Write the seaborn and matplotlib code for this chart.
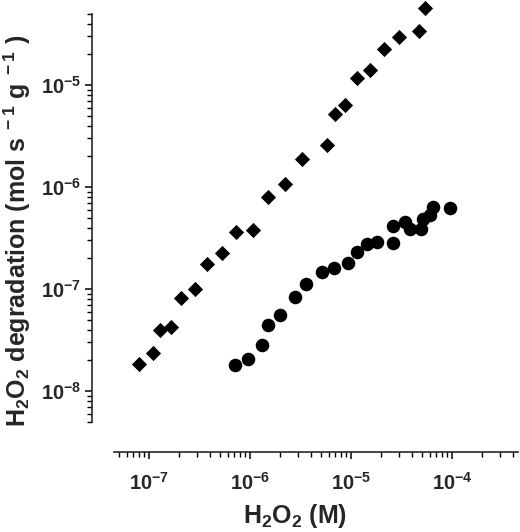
import numpy as np
import pandas as pd
import matplotlib
matplotlib.use("Agg")
import matplotlib.pyplot as plt
import seaborn as sns
from matplotlib.ticker import FixedLocator, FuncFormatter, NullFormatter

# --- data ---
# diamonds (upper series)
conc_diamond = [7.96e-8, 1.10e-7, 1.29e-7, 1.65e-7, 2.06e-7, 2.83e-7, 3.72e-7, 5.28e-7,
                7.26e-7, 1.08e-6, 1.52e-6, 2.22e-6, 3.25e-6, 5.75e-6, 6.95e-6, 8.73e-6,
                1.14e-5, 1.54e-5, 2.14e-5, 3.01e-5, 4.71e-5, 5.41e-5]
rate_diamond = [1.83e-8, 2.34e-8, 3.97e-8, 4.21e-8, 8.22e-8, 1.01e-7, 1.75e-7, 2.24e-7,
                3.65e-7, 3.75e-7, 7.98e-7, 1.06e-6, 1.88e-6, 2.58e-6, 5.16e-6, 6.32e-6,
                1.16e-5, 1.40e-5, 2.25e-5, 2.96e-5, 3.40e-5, 5.65e-5]

# circles (lower series)
conc_circle = [7.10e-7, 9.62e-7, 1.31e-6, 1.52e-6, 1.98e-6, 2.79e-6, 3.58e-6, 5.20e-6,
               6.84e-6, 9.40e-6, 1.14e-5, 1.43e-5, 1.79e-5, 2.59e-5, 2.59e-5, 3.43e-5,
               3.84e-5, 4.93e-5, 5.20e-5, 6.05e-5, 6.44e-5, 9.55e-5]
rate_circle = [1.80e-8, 2.06e-8, 2.83e-8, 4.44e-8, 5.56e-8, 8.41e-8, 1.12e-7, 1.48e-7,
               1.60e-7, 1.79e-7, 2.32e-7, 2.76e-7, 2.87e-7, 2.81e-7, 4.18e-7, 4.57e-7,
               3.85e-7, 3.85e-7, 4.82e-7, 5.31e-7, 6.41e-7, 6.18e-7]

df_d = pd.DataFrame({"conc": conc_diamond, "rate": rate_diamond})
df_c = pd.DataFrame({"conc": conc_circle, "rate": rate_circle})

# --- style ---
sns.set_style("ticks")
plt.rcParams["font.family"] = ["Liberation Sans", "DejaVu Sans"]
plt.rcParams["font.weight"] = "bold"
plt.rcParams["mathtext.fontset"] = "custom"
plt.rcParams["mathtext.rm"] = "Liberation Sans:bold"
plt.rcParams["mathtext.it"] = "Liberation Sans:bold"
plt.rcParams["mathtext.bf"] = "Liberation Sans:bold"
plt.rcParams["mathtext.default"] = "rm"

fig = plt.figure(figsize=(5.2, 5.32), dpi=100)
ax = fig.add_axes([92 / 520, 80 / 532, 428 / 520, 452 / 532])

sns.scatterplot(data=df_d, x="conc", y="rate", marker="D", s=60,
                color="black", linewidth=0, ax=ax)
sns.scatterplot(data=df_c, x="conc", y="rate", marker="o", s=95,
                color="black", linewidth=0, ax=ax)

ax.set_xscale("log")
ax.set_yscale("log")
ax.set_xlim(10 ** -7.564, 10 ** -3.327)
ax.set_ylim(10 ** -8.598, 10 ** -4.167)

# detached axis lines
for side in ["top", "right"]:
    ax.spines[side].set_visible(False)
ax.spines["left"].set_bounds(5e-9, 5e-5)
ax.spines["bottom"].set_bounds(4.5e-8, 4.5e-4)
ax.spines["left"].set_linewidth(1.2)
ax.spines["bottom"].set_linewidth(1.2)

# ticks
x_major = [1e-7, 1e-6, 1e-5, 1e-4]
y_major = [1e-8, 1e-7, 1e-6, 1e-5]
x_minor = [m * 10.0 ** e for e in range(-8, -3) for m in range(2, 10)
           if 4.5e-8 <= m * 10.0 ** e <= 4.5e-4]
y_minor = [m * 10.0 ** e for e in range(-9, -4) for m in range(2, 10)
           if 5e-9 <= m * 10.0 ** e <= 5e-5]
ax.xaxis.set_major_locator(FixedLocator(x_major))
ax.yaxis.set_major_locator(FixedLocator(y_major))
ax.xaxis.set_minor_locator(FixedLocator(x_minor))
ax.yaxis.set_minor_locator(FixedLocator(y_minor))
fmt = FuncFormatter(lambda v, p: r"$10^{%d}$" % round(np.log10(v)))
ax.xaxis.set_major_formatter(fmt)
ax.yaxis.set_major_formatter(fmt)
ax.xaxis.set_minor_formatter(NullFormatter())
ax.yaxis.set_minor_formatter(NullFormatter())

ax.tick_params(which="major", length=5, width=1.1, labelsize=14.5, color="black")
ax.tick_params(which="minor", length=3.8, width=1.0, color="black")
ax.tick_params(axis="x", which="major", pad=9)
ax.tick_params(axis="y", which="major", pad=3)

ax.set_xlabel(r"H$_2$O$_2$ (M)", fontsize=18, fontweight="bold")
ax.set_ylabel(r"H$_2$O$_2$ degradation (mol s$^{\ -1}$ g$^{\ -1}$ )",
              fontsize=18, fontweight="bold")
ax.xaxis.set_label_coords(0.474, -0.111)
ax.yaxis.set_label_coords(-0.138, 0.489)

fig.savefig("out.png", dpi=100)
